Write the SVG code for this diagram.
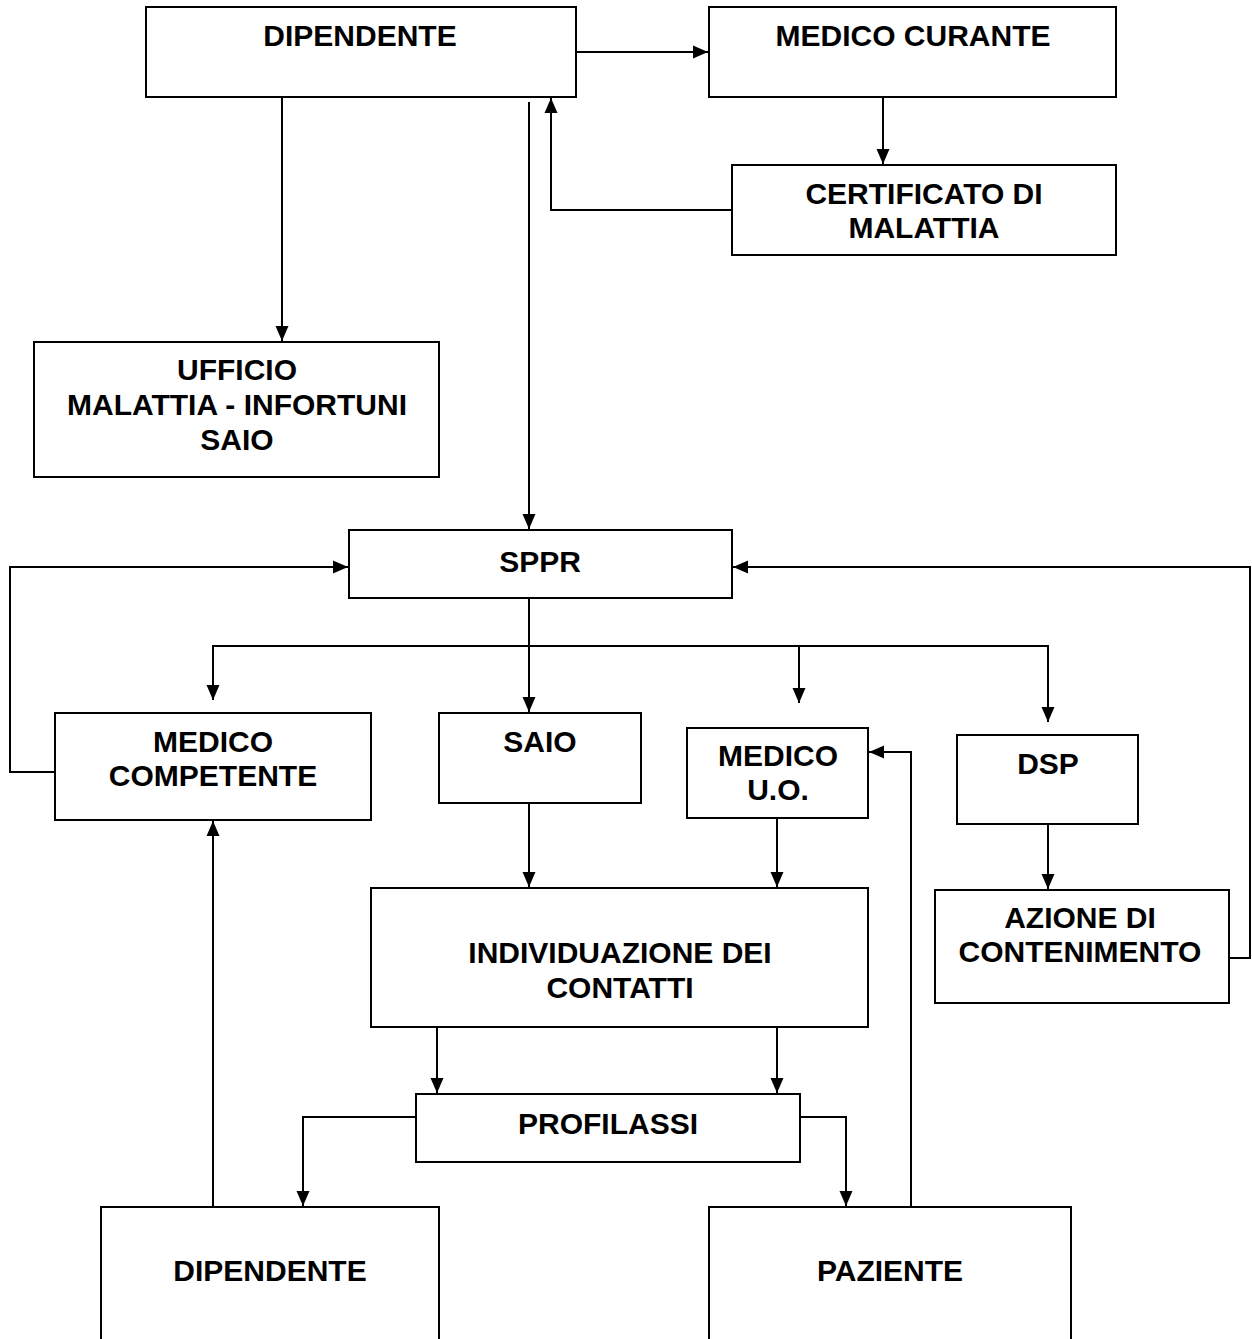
<svg xmlns="http://www.w3.org/2000/svg" width="1252" height="1339" viewBox="0 0 1252 1339">
<defs>
<marker id="arr" markerUnits="userSpaceOnUse" markerWidth="16" markerHeight="16" viewBox="0 0 16 16" refX="15" refY="8" orient="auto">
<path d="M0,1.5 L15,8 L0,14.5 Z" fill="#000"/>
</marker>
</defs>
<style>
rect{fill:#fff;stroke:#000;stroke-width:2}
text{font-family:"Liberation Sans",Arial,sans-serif;font-weight:bold;font-size:30px;text-anchor:middle;fill:#000}
#connectors path{fill:none;stroke:#000;stroke-width:2}
</style>
<rect x="0" y="0" width="1252" height="1339" style="stroke:none"/>
<g id="connectors">
<path d="M576,52 H708" marker-end="url(#arr)"/>
<path d="M883,97 V164" marker-end="url(#arr)"/>
<path d="M732,210 H551 V98" marker-end="url(#arr)"/>
<path d="M282,95 V341" marker-end="url(#arr)"/>
<path d="M529,102 V529" marker-end="url(#arr)"/>
<path d="M55,772 H10 V567 H348" marker-end="url(#arr)"/>
<path d="M1229,958 H1250 V567 H733" marker-end="url(#arr)"/>
<path d="M529,598 V712" marker-end="url(#arr)"/>
<path d="M213,700 V646 H1048 V722" marker-end="url(#arr)"/>
<path d="M799,646 V703" marker-end="url(#arr)"/>
<path d="M213,646 V700" marker-end="url(#arr)"/>
<path d="M529,803 V887" marker-end="url(#arr)"/>
<path d="M777,818 V887" marker-end="url(#arr)"/>
<path d="M1048,824 V889" marker-end="url(#arr)"/>
<path d="M437,1027 V1093" marker-end="url(#arr)"/>
<path d="M777,1027 V1093" marker-end="url(#arr)"/>
<path d="M416,1117 H303 V1206" marker-end="url(#arr)"/>
<path d="M800,1117 H846 V1206" marker-end="url(#arr)"/>
<path d="M911,1207 V752 H869" marker-end="url(#arr)"/>
<path d="M213,1207 V821" marker-end="url(#arr)"/>
</g>
<g id="dipendente-top">
<rect x="146" y="7" width="430" height="90"/>
<text x="360" y="46">DIPENDENTE</text>
</g>
<g id="medico-curante">
<rect x="709" y="7" width="407" height="90"/>
<text x="913" y="46">MEDICO CURANTE</text>
</g>
<g id="certificato">
<rect x="732" y="165" width="384" height="90"/>
<text x="924" y="204">CERTIFICATO DI</text>
<text x="924" y="238">MALATTIA</text>
</g>
<g id="ufficio">
<rect x="34" y="342" width="405" height="135"/>
<text x="237" y="380">UFFICIO</text>
<text x="237" y="415">MALATTIA - INFORTUNI</text>
<text x="237" y="450">SAIO</text>
</g>
<g id="sppr">
<rect x="349" y="530" width="383" height="68"/>
<text x="540" y="572">SPPR</text>
</g>
<g id="medico-competente">
<rect x="55" y="713" width="316" height="107"/>
<text x="213" y="752">MEDICO</text>
<text x="213" y="786">COMPETENTE</text>
</g>
<g id="saio">
<rect x="439" y="713" width="202" height="90"/>
<text x="540" y="752">SAIO</text>
</g>
<g id="medico-uo">
<rect x="687" y="728" width="181" height="90"/>
<text x="778" y="766">MEDICO</text>
<text x="778" y="800">U.O.</text>
</g>
<g id="dsp">
<rect x="957" y="735" width="181" height="89"/>
<text x="1048" y="774">DSP</text>
</g>
<g id="azione">
<rect x="935" y="890" width="294" height="113"/>
<text x="1080" y="928">AZIONE DI</text>
<text x="1080" y="962">CONTENIMENTO</text>
</g>
<g id="individuazione">
<rect x="371" y="888" width="497" height="139"/>
<text x="620" y="963">INDIVIDUAZIONE DEI</text>
<text x="620" y="998">CONTATTI</text>
</g>
<g id="profilassi">
<rect x="416" y="1094" width="384" height="68"/>
<text x="608" y="1134">PROFILASSI</text>
</g>
<g id="dipendente-bottom">
<rect x="101" y="1207" width="338" height="140"/>
<text x="270" y="1281">DIPENDENTE</text>
</g>
<g id="paziente">
<rect x="709" y="1207" width="362" height="140"/>
<text x="890" y="1281">PAZIENTE</text>
</g>
</svg>
